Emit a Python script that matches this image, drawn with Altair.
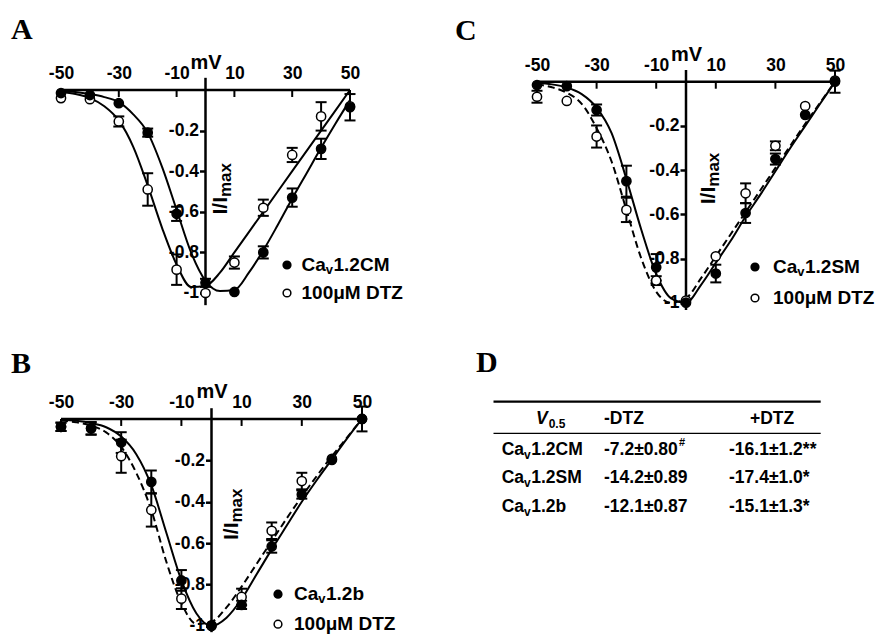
import altair as alt
import pandas as pd

SANS = "Liberation Sans"
SERIF = "Liberation Serif"

# ---------------- data ----------------
V = [-50, -40, -30, -20, -10, 0, 10, 20, 30, 40, 50]
FIT_V = [-50, -45, -40, -35, -30, -25, -20, -15, -10, -5, 0,
         5, 10, 15, 20, 25, 30, 35, 40, 45, 50]
X_TICKS = [-50, -30, -10, 10, 30, 50]
Y_TICKS = [-1, -0.8, -0.6, -0.4, -0.2]

# Panel A : Cav1.2CM
A_CTL = [-0.015, -0.025, -0.065, -0.21, -0.61, -0.95, -0.995, -0.80, -0.53, -0.29, -0.085]
A_CTL_ERR = [0.01, 0.01, 0.01, 0.02, 0.035, 0.02, 0.01, 0.03, 0.045, 0.05, 0.065]
A_DTZ = [-0.04, -0.045, -0.155, -0.49, -0.885, -1.0, -0.85, -0.58, -0.32, -0.13, -0.08]
A_DTZ_ERR = [0.01, 0.01, 0.025, 0.08, 0.075, 0.01, 0.03, 0.04, 0.035, 0.07, 0.01]
A_FIT_CTL = [-0.005, -0.01, -0.02, -0.035, -0.06, -0.12, -0.21, -0.38, -0.59, -0.80, -0.94,
             -0.99, -0.985, -0.90, -0.79, -0.665, -0.535, -0.41, -0.285, -0.165, -0.05]
A_FIT_DTZ = [-0.01, -0.02, -0.04, -0.08, -0.15, -0.28, -0.47, -0.68, -0.86, -0.97, -0.965,
             -0.9, -0.8, -0.7, -0.6, -0.5, -0.4, -0.3, -0.2, -0.1, 0.0]

# Panel C : Cav1.2SM
C_CTL = [-0.015, -0.02, -0.128, -0.45, -0.84, -1.0, -0.868, -0.594, -0.35, -0.15, 0.0]
C_CTL_ERR = [0.01, 0.01, 0.025, 0.07, 0.06, 0.01, 0.04, 0.045, 0.025, 0.01, 0.05]
C_DTZ = [-0.068, -0.087, -0.248, -0.58, -0.9, -0.99, -0.79, -0.505, -0.29, -0.11, 0.005]
C_DTZ_ERR = [0.027, 0.01, 0.05, 0.055, 0.02, 0.01, 0.01, 0.045, 0.02, 0.01, 0.01]
C_FIT_CTL = [-0.006, -0.012, -0.026, -0.056, -0.117, -0.232, -0.44, -0.67, -0.87, -0.98, -1.0,
             -0.92, -0.82, -0.72, -0.61, -0.51, -0.405, -0.30, -0.20, -0.10, 0.0]
C_FIT_DTZ = [-0.012, -0.025, -0.05, -0.1, -0.21, -0.36, -0.58, -0.80, -0.95, -1.0, -0.98,
             -0.89, -0.79, -0.69, -0.59, -0.49, -0.39, -0.29, -0.19, -0.095, 0.0]

# Panel B : Cav1.2b
B_CTL = [-0.038, -0.046, -0.114, -0.304, -0.78, -0.997, -0.898, -0.616, -0.365, -0.198, 0.0]
B_CTL_ERR = [0.02, 0.03, 0.05, 0.055, 0.05, 0.01, 0.02, 0.03, 0.02, 0.01, 0.06]
B_DTZ = [-0.038, -0.045, -0.18, -0.44, -0.868, -1.0, -0.86, -0.54, -0.30, -0.193, 0.0]
B_DTZ_ERR = [0.02, 0.03, 0.08, 0.08, 0.05, 0.01, 0.04, 0.04, 0.04, 0.01, 0.01]
B_FIT_CTL = [-0.004, -0.009, -0.02, -0.04, -0.085, -0.17, -0.32, -0.55, -0.78, -0.94, -1.0,
             -0.96, -0.87, -0.75, -0.63, -0.515, -0.40, -0.295, -0.195, -0.095, 0.0]
B_FIT_DTZ = [-0.008, -0.016, -0.032, -0.065, -0.135, -0.26, -0.44, -0.69, -0.89, -0.99, -0.98,
             -0.91, -0.81, -0.70, -0.59, -0.48, -0.375, -0.275, -0.18, -0.09, 0.0]

# Panel D : table
T_NAMES = ["1.2CM", "1.2SM", "1.2b"]
T_MINUS = ["-7.2±0.80", "-14.2±0.89", "-12.1±0.87"]
T_MINUS_SUP = ["#", "", ""]
T_PLUS = ["-16.1±1.2**", "-17.4±1.0*", "-15.1±1.3*"]

DTZ_LABEL = "100μM DTZ"

# ---------------- helpers ----------------
ONE = pd.DataFrame({"k": [0]})


def vtext(text, x, y, size, font=SANS, align="left", baseline="middle", **kw):
    return alt.Chart(ONE).mark_text(
        text=text, font=font, fontSize=size, fontWeight="bold", color="black",
        align=align, baseline=baseline, **kw
    ).encode(x=alt.value(x), y=alt.value(y))


def cav_label(rest, x, y, size, sub_size, sub_dy):
    w_ca = (0.722 + 0.556) * size
    w_v = 0.556 * sub_size
    return [
        vtext("Ca", x, y, size),
        vtext("v", x + w_ca, y + sub_dy, sub_size),
        vtext(rest, x + w_ca + w_v + 0.5, y, size),
    ]


def panel(ctl, ctl_err, dtz, dtz_err, fit_ctl, fit_dtz, dashed, name, letter, L):
    width, ppu = L["width"], L["ppu"]
    ytop, ybot = L["ytop"], L["ybot"]
    height = (ytop - ybot) * ppu
    x0px = width / 2.0
    y0px = ytop * ppu

    xs = alt.Scale(domain=[-50, 50], nice=False, zero=False)
    ys = alt.Scale(domain=[ybot, ytop], nice=False, zero=False)
    xaxis = alt.Axis(
        orient="top", values=X_TICKS, labelExpr="'' + datum.value",
        domain=False, ticks=False, tickSize=0, grid=False,
        labelFont=SANS, labelFontSize=17.5, labelFontWeight="bold", labelColor="black",
        labelPadding=7, labelFlush=False, labelOverlap=False,
        title="mV", titleFont=SANS, titleFontSize=20, titleFontWeight="bold",
        titleColor="black", titlePadding=-8, offset=-y0px,
    )
    yaxis = alt.Axis(
        orient="left", values=Y_TICKS, labelExpr="'' + datum.value",
        domain=False, ticks=True, tickSize=6, tickWidth=2.5, tickColor="black", grid=False,
        labelFont=SANS, labelFontSize=17.5, labelFontWeight="bold", labelColor="black",
        labelPadding=1, labelFlush=False, labelOverlap=False,
        title=None, offset=-x0px,
    )

    def X(f):
        return alt.X(f, type="quantitative", scale=xs, axis=xaxis)

    def Y(f):
        return alt.Y(f, type="quantitative", scale=ys, axis=yaxis)

    axis_df = pd.DataFrame({"x": [-50, 0], "x2": [50, 0],
                            "y": [0, L["line_top"]], "y2": [0, ybot]})
    rules = alt.Chart(axis_df).mark_rule(color="black", strokeWidth=2.5, opacity=1).encode(
        x=X("x"), x2="x2:Q", y=Y("y"), y2="y2:Q")

    tick_df = pd.DataFrame({"V": X_TICKS, "y": [0] * len(X_TICKS)})
    xticks = alt.Chart(tick_df).mark_tick(
        orient="vertical", size=7, thickness=2, color="black", yOffset=3.5, opacity=1
    ).encode(x=X("V"), y=Y("y"))

    rows = []
    for s, vals, errs in (("dtz", dtz, dtz_err), ("ctl", ctl, ctl_err)):
        for v, val, e in zip(V, vals, errs):
            rows.append({"V": v, "val": val, "err": e, "lo": val - e, "hi": val + e, "series": s})
    pts = pd.DataFrame(rows)
    errs_df = pts[pts["err"] >= 0.015]
    caps = pd.concat([
        errs_df[["V", "lo"]].rename(columns={"lo": "cap"}),
        errs_df[["V", "hi"]].rename(columns={"hi": "cap"}),
    ])

    ebar = alt.Chart(errs_df).mark_rule(color="black", strokeWidth=2, opacity=1).encode(
        x=X("V"), y=Y("lo"), y2="hi:Q")
    ecap = alt.Chart(caps).mark_tick(
        orient="horizontal", size=11, thickness=2, color="black", opacity=1
    ).encode(x=X("V"), y=Y("cap"))

    fit_ctl_df = pd.DataFrame({"V": FIT_V, "val": fit_ctl})
    fit_dtz_df = pd.DataFrame({"V": FIT_V, "val": fit_dtz})
    line_ctl = alt.Chart(fit_ctl_df).mark_line(
        color="black", strokeWidth=2, interpolate="monotone").encode(x=X("V"), y=Y("val"))
    dtz_kw = {"strokeDash": [7, 4]} if dashed else {}
    line_dtz = alt.Chart(fit_dtz_df).mark_line(
        color="black", strokeWidth=2, interpolate="monotone", **dtz_kw).encode(x=X("V"), y=Y("val"))

    fill_scale = alt.Scale(domain=["ctl", "dtz"], range=["black", "white"])
    p_dtz = alt.Chart(pts[pts["series"] == "dtz"]).mark_point(
        shape="circle", filled=True, size=85, stroke="black", strokeWidth=1.5, opacity=1
    ).encode(x=X("V"), y=Y("val"), fill=alt.Fill("series:N", scale=fill_scale, legend=None))
    p_ctl = alt.Chart(pts[pts["series"] == "ctl"]).mark_point(
        shape="circle", filled=True, size=85, stroke="black", strokeWidth=1.5, opacity=1
    ).encode(x=X("V"), y=Y("val"), fill=alt.Fill("series:N", scale=fill_scale, legend=None))

    # y title  I/I_max (rotated)
    tx, ty = L["ytitle"]
    ytitle = [
        vtext("I/I", tx, ty, 21, align="right", baseline="alphabetic", angle=270),
        vtext("max", tx + 4, ty, 17, align="left", baseline="alphabetic", angle=270),
    ]

    # legend
    bx, by1, by2, lx = L["legend"]
    legend = [
        alt.Chart(ONE).mark_point(shape="circle", filled=True, size=60, fill="black",
                                  stroke="black", strokeWidth=1.5, opacity=1)
        .encode(x=alt.value(bx), y=alt.value(by1)),
        alt.Chart(ONE).mark_point(shape="circle", filled=True, size=60, fill="white",
                                  stroke="black", strokeWidth=1.5, opacity=1)
        .encode(x=alt.value(bx), y=alt.value(by2)),
    ] + cav_label(name, lx, by1, 19, 13, 5) + [vtext(DTZ_LABEL, lx, by2, 19)]

    lx_, ly_ = L["letter"]
    let = vtext(letter, lx_, ly_, 30, font=SERIF, baseline="top")

    return alt.layer(
        rules, xticks, ebar, ecap, line_dtz, line_ctl, p_dtz, p_ctl,
        *ytitle, *legend, let
    ).properties(width=width, height=height)


LA = dict(width=289, ppu=203, ytop=0.0985, ybot=-1.06, line_top=0.06,
          ytitle=(166, 127), legend=(226, 195, 223, 240.5), letter=(-50, -54.6))
LC = dict(width=298, ppu=221, ytop=0.053, ybot=-1.033, line_top=0.053,
          ytitle=(178, 116.7), legend=(218, 197, 228, 236), letter=(-82, -53.6))
LB = dict(width=301, ppu=207, ytop=0.052, ybot=-1.03, line_top=0.052,
          ytitle=(177, 114.3), legend=(217, 186, 216, 233), letter=(-50, -59))

chart_A = panel(A_CTL, A_CTL_ERR, A_DTZ, A_DTZ_ERR, A_FIT_CTL, A_FIT_DTZ, False, "1.2CM", "A", LA)
chart_C = panel(C_CTL, C_CTL_ERR, C_DTZ, C_DTZ_ERR, C_FIT_CTL, C_FIT_DTZ, True, "1.2SM", "C", LC)
chart_B = panel(B_CTL, B_CTL_ERR, B_DTZ, B_DTZ_ERR, B_FIT_CTL, B_FIT_DTZ, True, "1.2b", "B", LB)

# ---------------- table (D) ----------------
TS = 17.5
tdf = pd.DataFrame({"row": [1, 2, 3], "name": T_NAMES, "minus": T_MINUS,
                    "sup": T_MINUS_SUP, "plus": T_PLUS})
row_scale = alt.Scale(domain=[1, 3], range=[41.3, 98.8])


def tcol(x, field=None, text=None, size=TS, dy=0):
    kw = dict(font=SANS, fontSize=size, fontWeight="bold", color="black",
              align="left", baseline="middle", dy=dy)
    if text is not None:
        kw["text"] = text
    enc = dict(x=alt.value(x), y=alt.Y("row:Q", scale=row_scale, axis=None))
    if field is not None:
        enc["text"] = alt.Text(field, type="nominal")
    return alt.Chart(tdf).mark_text(**kw).encode(**enc)


X_NAME, X_MINUS, X_PLUS = -35.3, 67, 192
w_ca = (0.722 + 0.556) * TS
w_v = 0.556 * 12
w_minus = [4.253 * TS, 4.809 * TS, 4.809 * TS]

sup_df = pd.DataFrame({"row": [1], "sup": [T_MINUS_SUP[0]]})
sup_layer = alt.Chart(sup_df).mark_text(
    font=SANS, fontSize=11, fontWeight="bold", color="black", align="left",
    baseline="middle", dy=-7
).encode(x=alt.value(X_MINUS + w_minus[0] + 0.5),
         y=alt.Y("row:Q", scale=row_scale, axis=None), text="sup:N")

table_layers = [
    alt.Chart(ONE).mark_rule(color="black", strokeWidth=2.2).encode(
        x=alt.value(-43.5), x2=alt.value(283.7), y=alt.value(-6.5)),
    alt.Chart(ONE).mark_rule(color="black", strokeWidth=1.3).encode(
        x=alt.value(-43.5), x2=alt.value(283.7), y=alt.value(25.1)),
    vtext("V", -1, 11.1, TS, fontStyle="italic"),
    vtext("0.5", -1 + 0.667 * TS + 1, 16, 12),
    vtext("-DTZ", X_MINUS, 11.1, TS),
    vtext("+DTZ", 213, 11.1, TS),
    tcol(X_NAME, text="Ca"),
    tcol(X_NAME + w_ca, text="v", size=12, dy=5),
    tcol(X_NAME + w_ca + w_v + 0.5, field="name"),
    tcol(X_MINUS, field="minus"),
    sup_layer,
    tcol(X_PLUS, field="plus"),
    vtext("D", -61, -60, 30, font=SERIF, baseline="top"),
]
chart_D = alt.layer(*table_layers).properties(width=280, height=110)

chart = alt.concat(
    chart_A, chart_C, chart_B, chart_D, columns=2,
    spacing={"row": 97.2, "column": 175}, bounds="flush", align="each",
).properties(
    padding={"left": 3, "top": 7, "right": 0, "bottom": 0},
    background="white",
).configure_view(stroke=None)

chart.save("out.html", embed_options={"renderer": "svg", "actions": False})
